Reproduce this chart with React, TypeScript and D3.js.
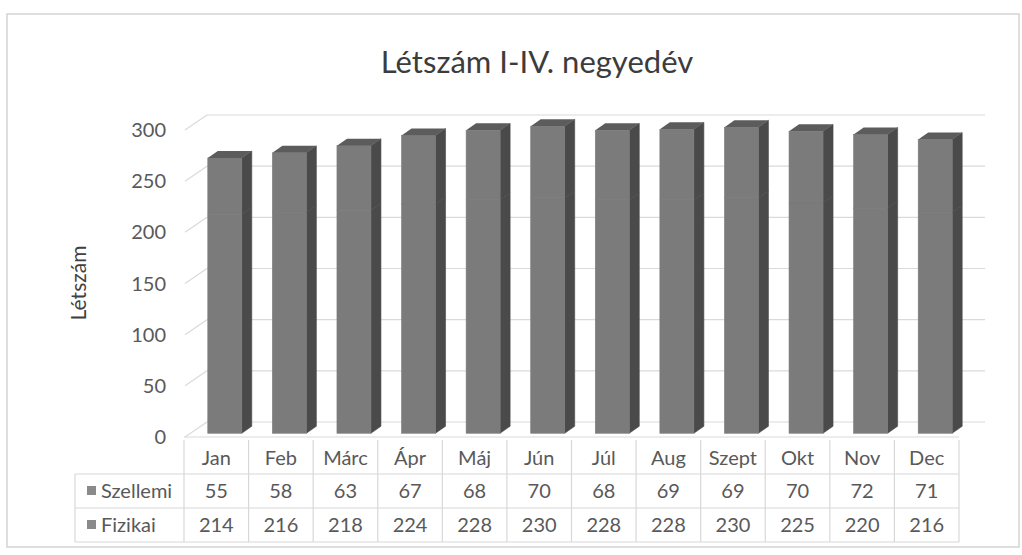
import React from "react";
import * as d3 from "d3";

const months = ["Jan", "Feb", "Márc", "Ápr", "Máj", "Jún", "Júl", "Aug", "Szept", "Okt", "Nov", "Dec"];
const szellemi = [55, 58, 63, 67, 68, 70, 68, 69, 69, 70, 72, 71];
const fizikai = [214, 216, 218, 224, 228, 230, 228, 228, 230, 225, 220, 216];
const yTicks = [0, 50, 100, 150, 200, 250, 300];
const seriesNames = ["Szellemi", "Fizikai"];
const title = "Létszám I-IV. negyedév";
const yTitle = "Létszám";

const FONT = "Lato, 'Open Sans', sans-serif";

export default function App() {
  const W = 1022, H = 555;
  const x = d3.scaleBand<string>().domain(months).range([184, 959]).paddingInner(0).paddingOuter(0);
  const y = d3.scaleLinear().domain([0, 300]).range([437, 130]);
  const DX = 22, DY = -15;
  const f = 0.25;
  const bdx = 10, bdy = -7;
  const barW = 34;

  const stack = d3.stack<number>().keys(["fiz", "sz"]).value((i, k) => (k === "fiz" ? fizikai[i] : szellemi[i]));
  const stacked = stack(d3.range(months.length));

  const front = "#7b7b7b", side = "#4a4a4a", top = "#5c5c5c";
  const grid = "#dadada";
  const tableLine = "#d8d8d8";
  const text = "#595959";

  const rowTops = [440, 474, 508, 542];

  return (
    <svg width={W} height={H} style={{ position: "absolute", left: 0, top: 0, background: "#fff" }} fontFamily={FONT}>
      <rect x={7} y={14} width={1012} height={533} fill="#fff" stroke="#d4d4d4" strokeWidth={1.5} />
      <text x={537} y={73} textAnchor="middle" fontSize={31} fill="#3c3c3c">{title}</text>

      {yTicks.map((t) => (
        <g key={t}>
          <line x1={185} y1={y(t)} x2={185 + DX} y2={y(t) + DY} stroke={grid} strokeWidth={1.2} />
          <line x1={185 + DX} y1={y(t) + DY} x2={959 + DX + 4} y2={y(t) + DY} stroke={grid} strokeWidth={1.2} />
          <text x={166} y={y(t) + 7} textAnchor="end" fontSize={20} fill={text}>{t}</text>
        </g>
      ))}
      <line x1={184} y1={y(0)} x2={959} y2={y(0)} stroke={grid} strokeWidth={1.2} />

      <text transform={`translate(86,${283}) rotate(-90)`} textAnchor="middle" fontSize={21} fill="#404040">{yTitle}</text>

      {months.map((m, i) => {
        const cx = (x(m) as number) + x.bandwidth() / 2 + DX * f + 3;
        const x0 = cx - barW / 2, x1 = cx + barW / 2;
        const oy = DY * f;
        return (
          <g key={m}>
            {stacked.map((s, si) => {
              const v0 = s[i][0], v1 = s[i][1];
              const yb = y(v0) + oy, yt = y(v1) + oy;
              return (
                <g key={si}>
                  <polygon points={`${x1},${yb} ${x1 + bdx},${yb + bdy} ${x1 + bdx},${yt + bdy} ${x1},${yt}`} fill={side} stroke={side} strokeWidth={0.6} />
                  <rect x={x0} y={yt} width={barW} height={yb - yt} fill={front} stroke={front} strokeWidth={0.6} />
                  {si === stacked.length - 1 && (
                    <polygon points={`${x0},${yt} ${x0 + bdx},${yt + bdy} ${x1 + bdx},${yt + bdy} ${x1},${yt}`} fill={top} />
                  )}
                </g>
              );
            })}
          </g>
        );
      })}

      {rowTops.slice(1).map((ry) => (
        <line key={ry} x1={75} y1={ry} x2={959} y2={ry} stroke={tableLine} strokeWidth={1.2} />
      ))}
      <line x1={75} y1={rowTops[1]} x2={75} y2={rowTops[3]} stroke={tableLine} strokeWidth={1.2} />
      {months.map((m) => (
        <line key={m} x1={x(m) as number} y1={rowTops[0]} x2={x(m) as number} y2={rowTops[3]} stroke={tableLine} strokeWidth={1.2} />
      ))}
      <line x1={959} y1={rowTops[0]} x2={959} y2={rowTops[3]} stroke={tableLine} strokeWidth={1.2} />
      {months.map((m, i) => {
        const cx = (x(m) as number) + x.bandwidth() / 2;
        return (
          <g key={m} fontSize={20} fill={text} textAnchor="middle">
            <text x={cx} y={465}>{m}</text>
            <text x={cx} y={498}>{szellemi[i]}</text>
            <text x={cx} y={532}>{fizikai[i]}</text>
          </g>
        );
      })}
      {seriesNames.map((n, i) => {
        const cy = i === 0 ? 491 : 525;
        return (
          <g key={n}>
            <rect x={87} y={cy - 5} width={9} height={9} fill="#8a8a8a" />
            <text x={101} y={cy + 7} fontSize={20} fill={text}>{n}</text>
          </g>
        );
      })}
    </svg>
  );
}
